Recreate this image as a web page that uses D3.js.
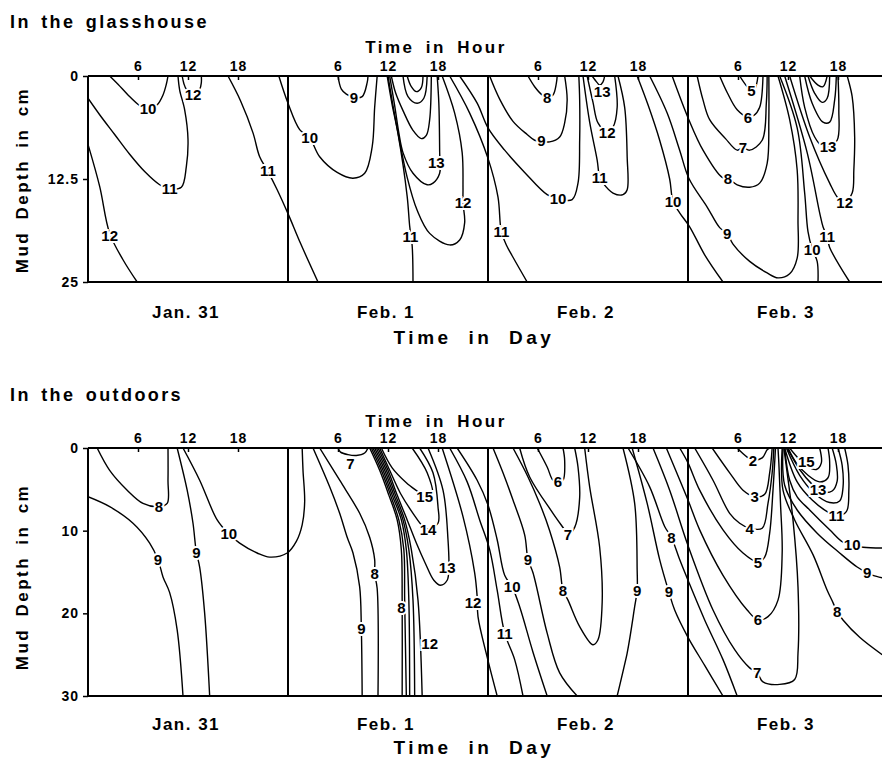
<!DOCTYPE html>
<meta charset="utf-8">
<title>Mud temperature isotherms</title>
<style>
body { margin: 0; background: #fff; }
svg { display: block; font-family: "Liberation Sans", Arial, sans-serif; font-weight: bold; }
.frame line { stroke: #000; stroke-width: 2; }
.iso { fill: none; stroke: #000; stroke-width: 1.4; }
.lab { font-size: 15px; fill: #000; stroke: #fff; stroke-width: 4px; paint-order: stroke; text-anchor: middle; dominant-baseline: central; }
.axis text { font-size: 14px; font-family: "Liberation Sans", Arial, sans-serif; font-weight: bold; letter-spacing: 1px; }
.axis line { stroke: #000; stroke-width: 1.5; }
.title { font-size: 18px; letter-spacing: 2.4px; word-spacing: 3px; }
.axtitle { font-size: 17px; letter-spacing: 2.5px; word-spacing: 4px; text-anchor: middle; }
.daytitle { font-size: 19px; letter-spacing: 3.5px; word-spacing: 8px; text-anchor: middle; }
.day { font-size: 17px; letter-spacing: 1.5px; text-anchor: middle; }
</style>
<body>
<script src="https://cdn.jsdelivr.net/npm/d3@7"></script>
<script>

var width = 882, height = 766;

var dayLabels = ["Jan. 31", "Feb. 1", "Feb. 2", "Feb. 3"];
var hourTicks = [6, 12, 18, 30, 36, 42, 54, 60, 66, 78, 84, 90];
var glassDepthTicks = [0, 12.5, 25];
var outDepthTicks = [0, 10, 20, 30];

// isotherms, points are [hour since Jan 31 0h, depth cm]
var gJan31 = [
  {t: 10, lab: [7.2, 4.0], p: [[2.6,0],[3.6,1.0],[4.8,2.3],[6.2,3.6],[7.2,4.1],[8.3,3.5],[9.0,2.3],[9.4,1.0],[9.6,0]]},
  {t: 12, lab: [12.6, 2.3], p: [[11.3,0],[11.5,0.9],[11.8,1.6],[12.6,2.2],[13.4,1.6],[13.6,0.8],[13.6,0]]},
  {t: 11, lab: [9.8, 13.7], p: [[0,2.7],[1.4,4.7],[3.2,7.1],[5.0,9.5],[6.8,11.6],[8.6,13.2],[9.8,13.7],[11.2,13.5],[11.8,11.0],[12.0,7.7],[11.6,4.1],[11.0,1.7],[10.8,0]]},
  {t: 12, lab: [2.6, 19.4], p: [[0,8.3],[1.4,13.4],[2.6,19.1],[4.2,22.3],[5.9,25]]},
  {t: 11, lab: [21.6, 11.5], p: [[16.8,0],[18.3,3],[19.8,6.9],[20.6,9.8],[21.6,11.6],[22.7,13.8],[24,16.7],[25.5,20.3],[27.6,25]]}
];
var gFeb1 = [
  {t: 10, lab: [26.6, 7.5], p: [[22.9,0],[24,3.3],[25.4,6.5],[26.6,7.5],[27.8,9.8],[29.9,11.7],[31.8,12.4],[33.2,11.8],[34.1,8.6],[34.4,3.8],[34.7,0]]},
  {t: 9, lab: [31.9, 2.6], p: [[30.0,0],[30.4,1.6],[31.0,2.2],[31.9,2.6],[32.9,2.5],[33.5,0.8],[33.6,0]]},
  {t: 11, lab: [38.7, 19.5], p: [[35.9,0],[36.5,3.5],[37.2,7.0],[38.3,14.6],[38.6,18.2],[38.9,20.6],[39.0,25]]},
  {t: 12, lab: [45.0, 15.4], p: [[36.0,0],[36.6,3.6],[37.2,6.9],[38.3,12.3],[39.5,16.3],[41.0,19.1],[43.4,20.5],[44.6,19.9],[45.2,17.8],[45.0,15.4],[45.0,13.5],[44.9,9.3],[44.0,4.5],[42.5,0]]},
  {t: 13, lab: [41.8, 10.5], p: [[36.2,0],[36.8,3.6],[37.3,6.9],[37.8,9.3],[39.0,11.8],[40.7,13.2],[41.4,13.0],[42.2,11.8],[42.2,9.3],[42.1,3.3],[41.9,0]]},
  {t: 14, lab: null, p: [[36.4,0],[36.9,2.0],[37.8,4.2],[39.0,6.6],[40.0,7.6],[40.6,7.2],[41.0,5.3],[41.2,0]]},
  {t: 15, lab: null, p: [[37.8,0],[38.4,2.5],[39.5,3.3],[40.3,2.7],[40.7,0]]},
  {t: 16, lab: null, p: [[38.3,0],[38.8,1.3],[39.4,1.9],[40.0,1.4],[40.2,0]]}
];
var gFeb2 = [
  {t: 11, lab: [49.6, 18.9], p: [[43.4,0],[45.8,4.5],[48.0,10.0],[49.2,14.7],[49.6,18.9],[50.2,20.5],[51.0,22.0],[52.7,25]]},
  {t: 10, lab: [56.4, 14.9], p: [[44.6,0],[46.7,3.3],[48.0,6.3],[50.0,9.0],[52.4,11.7],[55.1,14.4],[56.4,14.9],[58.1,15.0],[58.8,13.0],[59.0,7.8],[59.0,2.9],[58.9,0]]},
  {t: 9, lab: [54.4, 7.8], p: [[48.2,0],[49.4,2.8],[51.0,5.5],[52.7,7.1],[53.6,7.8],[54.4,7.9],[55.4,8.0],[56.6,7.4],[57.2,5.7],[57.5,2.9],[57.2,0]]},
  {t: 8, lab: [55.1, 2.6], p: [[52.8,0],[53.6,1.3],[54.5,2.3],[55.1,2.6],[55.8,2.3],[56.2,0.9],[56.3,0]]},
  {t: 11, lab: [61.4, 12.3], p: [[59.4,0],[60.2,5.6],[61.1,10.2],[61.4,12.3],[61.8,13.0],[63.0,14.2],[64.2,14.4],[64.7,13.8],[64.7,9.8],[64.4,3.8],[63.6,0]]},
  {t: 12, lab: [62.3, 6.8], p: [[59.9,0],[60.6,3.2],[61.2,5.7],[62.3,6.8],[63.0,6.2],[63.5,3.8],[63.2,0]]},
  {t: 13, lab: [61.7, 1.9], p: [[60.5,0],[61.1,0.8],[61.4,1.1],[61.8,0.7],[62.0,0]]},
  {t: 10, lab: [70.2, 15.2], p: [[65.9,0],[67.2,3.5],[68.6,7.8],[69.8,12.5],[70.2,15.2],[71.0,16.6],[72.2,18.3],[74.0,21.7],[76.2,25]]}
];
var gFeb3 = [
  {t: 9, lab: [76.7, 19.1], p: [[67.4,0],[69.5,4.5],[71.0,9.0],[72.1,12.4],[74.3,15.9],[75.8,18.4],[76.7,19.1],[77.4,20.4],[79.4,22.5],[81.5,23.9],[82.8,24.5],[84.2,24.0],[85.1,22.1],[85.2,17.5],[85.1,11.4],[84.2,5.3],[82.8,0]]},
  {t: 8, lab: [76.8, 12.4], p: [[70.1,0],[72.1,5.3],[73.8,9.0],[76.1,12.3],[76.8,12.4],[77.9,13.2],[79.4,13.5],[80.6,13.0],[81.5,10.6],[81.7,5.3],[81.7,0]]},
  {t: 7, lab: [78.6, 8.7], p: [[73.1,0],[73.8,2.9],[74.6,5.3],[76.5,7.6],[77.9,9.0],[78.6,8.7],[79.4,9.0],[80.9,7.8],[81.4,3.3],[81.5,0]]},
  {t: 6, lab: [79.2, 5.0], p: [[75.8,0],[76.7,2],[77.9,4.1],[79.2,5.0],[79.9,4.8],[80.6,3.8],[81.0,0]]},
  {t: 5, lab: [79.6, 1.7], p: [[78.2,0],[79.1,1.3],[79.6,1.7],[80.0,1.6],[80.4,0]]},
  {t: 10, lab: [86.9, 21.0], p: [[83.0,0],[85.1,6.3],[86.0,14.2],[86.4,18.9],[86.9,21.0],[87.5,22.5],[87.6,25]]},
  {t: 11, lab: [88.7, 19.5], p: [[83.6,0],[86.3,9.3],[87.8,16.6],[88.2,18.3],[88.7,19.5],[89.0,20.8],[91.4,25]]},
  {t: 12, lab: [90.8, 15.3], p: [[84.2,0],[86.6,7.4],[89.0,13.0],[90.0,14.8],[90.8,15.3],[91.7,14.2],[91.9,11.4],[92.0,7.4],[91.7,2.5],[91.1,0]]},
  {t: 13, lab: [88.8, 8.6], p: [[85.4,0],[86.0,3.8],[87.2,7.4],[88.2,8.6],[88.8,8.6],[89.9,7.8],[90.1,4.1],[90.0,0]]},
  {t: 14, lab: null, p: [[86.0,0],[86.9,3.3],[88.2,5.6],[89.0,5.6],[89.6,2.9],[89.8,0]]},
  {t: 15, lab: null, p: [[86.4,0],[87.2,2.1],[88.1,3.2],[88.7,2.7],[89.0,0]]},
  {t: 16, lab: null, p: [[86.6,0],[87.6,1.1],[88.2,1.3],[88.7,0]]}
];

var oJan31 = [
  {t: 8, lab: [8.5, 7.1], p: [[1.1,0],[2.6,2.7],[4.7,5.1],[6.6,6.7],[8.5,7.1],[9.5,6.7],[9.6,3.9],[9.6,0]]},
  {t: 9, lab: [8.4, 13.5], p: [[0,5.9],[2.6,7.1],[5.4,9.1],[7.4,11.5],[8.4,13.5],[9.0,15.6],[9.8,17.5],[10.7,22.0],[11.4,30]]},
  {t: 9, lab: [13.0, 12.6], p: [[10.7,0],[11.9,5.1],[12.6,9.1],[13.0,12.6],[13.4,14.4],[14.0,20.0],[14.6,30]]},
  {t: 10, lab: [16.9, 10.4], p: [[11.4,0],[13.4,3.9],[15.5,8.7],[16.9,10.4],[18.2,11.5],[20.3,12.7],[21.8,13.2],[23.9,12.7],[25.0,11.3],[25.7,9.3],[26.0,6.5],[25.8,2.7],[25.7,0]]}
];
var oFeb1 = [
  {t: 7, lab: [31.5, 1.9], p: [[30.0,0],[30.3,0.5],[31.2,0.8],[32.2,0.9],[33.2,0.6],[33.6,0]]},
  {t: 9, lab: [32.8, 21.8], p: [[27.0,0],[29.0,4.7],[30.2,7.9],[31.1,10.8],[31.8,12.7],[32.6,16.8],[32.8,21.8],[32.9,30]]},
  {t: 8, lab: [34.4, 15.2], p: [[27.8,0],[30.2,3.9],[32.6,7.9],[33.8,10.8],[34.4,13.5],[34.4,15.2],[34.7,17.0],[34.8,30]]},
  {t: 8, lab: [37.6, 19.3], p: [[33.8,0],[35.0,2.7],[36.1,5.7],[37.1,8.7],[37.6,12.3],[37.7,18.4],[37.7,30]]},
  {t: 9, lab: null, p: [[34.0,0],[35.2,2.7],[36.3,5.7],[37.3,8.7],[37.9,12.3],[38.0,18.4],[38.2,30]]},
  {t: 10, lab: null, p: [[34.2,0],[35.4,2.7],[36.5,5.7],[37.6,8.7],[38.2,12.3],[38.5,18.4],[38.6,30]]},
  {t: 11, lab: null, p: [[34.4,0],[35.6,2.7],[36.7,5.7],[37.8,8.7],[38.5,12.3],[39.0,18.4],[39.2,30]]},
  {t: 12, lab: [41.0, 23.7], p: [[34.6,0],[35.8,2.7],[36.9,5.7],[38.0,8.7],[38.8,12.3],[39.6,18.4],[40.1,30]]},
  {t: 13, lab: [43.1, 14.4], p: [[34.8,0],[36.0,2.7],[37.1,5.7],[38.3,8.7],[39.4,11.5],[40.5,14.0],[41.5,16.0],[42.3,16.6],[43.1,16.0],[43.3,14.4],[43.2,11.1],[42.6,5.1],[40.8,0]]},
  {t: 14, lab: [40.8, 9.8], p: [[35.0,0],[36.2,2.7],[37.5,5.5],[39.0,7.9],[40.2,9.5],[40.8,9.8],[42.0,9.1],[42.0,7.1],[41.4,3.0],[39.8,0]]},
  {t: 15, lab: [40.4, 5.9], p: [[35.2,0],[36.5,2.4],[38.2,4.2],[39.6,5.3],[40.4,5.9],[41.3,5.7],[40.7,3.0],[38.9,0]]},
  {t: 12, lab: [46.2, 18.7], p: [[42.5,0],[45.0,8.3],[46.4,15.1],[46.7,18.0],[46.8,20.4],[47.9,25.3],[49.1,30]]}
];
var oFeb2 = [
  {t: 11, lab: [50.0, 22.4], p: [[43.4,0],[45.5,4.1],[47.0,8.7],[48.2,12.3],[49.1,17.2],[50.0,22.4],[51.2,25.6],[52.2,30]]},
  {t: 10, lab: [50.9, 16.8], p: [[44.3,0],[46.7,3.9],[48.0,6.9],[49.1,11.1],[50.0,15.4],[50.9,16.8],[51.8,19.2],[53.4,24.7],[55.1,30]]},
  {t: 9, lab: [52.8, 13.5], p: [[48.6,0],[49.8,3.0],[51.0,6.3],[52.4,10.5],[52.8,13.5],[53.4,15.1],[55.1,22.4],[56.6,27.2],[58.7,30]]},
  {t: 8, lab: [57.0, 17.2], p: [[51.0,0],[52.8,3.5],[54.2,6.7],[55.4,10],[56.6,14.4],[57.0,17.2],[57.6,18.4],[59.0,21.6],[60.6,23.8],[61.2,23.2],[61.7,18.7],[61.4,12.0],[60.2,4.7],[59.6,0]]},
  {t: 7, lab: [57.6, 10.5], p: [[51.8,0],[53.0,3.5],[55.8,7.9],[57.2,9.9],[57.6,10.5],[58.4,9.6],[59.0,6.0],[58.8,2.3],[58.4,0]]},
  {t: 6, lab: [56.4, 4.1], p: [[53.9,0],[55.1,2.3],[55.8,3.9],[56.4,4.1],[57.0,3.9],[57.2,1.5],[57.0,0]]},
  {t: 9, lab: [65.9, 17.2], p: [[64.2,0],[65.6,6.7],[65.9,14.8],[65.9,17.2],[65.6,19.2],[64.7,24.8],[63.5,30]]},
  {t: 8, lab: [70.0, 10.8], p: [[64.8,0],[67.4,4.7],[69.2,9.5],[70.0,10.8],[71.0,13.5],[72.0,16.0],[74.0,20.8],[76.2,25.6],[77.9,30]]},
  {t: 9, lab: [69.7, 17.4], p: [[65.3,0],[67.1,6.7],[68.6,13.5],[69.7,17.4],[70.4,19.6],[72.0,22.9],[74.0,26.3],[76.2,30]]}
];
var oFeb3 = [
  {t: 7, lab: [80.3, 27.2], p: [[67.8,0],[69.8,5.1],[72.0,11.8],[75.0,19.6],[77.6,24.4],[79.4,26.6],[80.3,27.2],[81.0,28.3],[83.0,28.6],[84.8,28.0],[85.2,24.8],[85.2,16.8],[84.6,8.7],[83.9,3.0],[83.5,0]]},
  {t: 6, lab: [80.4, 20.8], p: [[69.4,0],[72.0,6.3],[73.4,9.9],[76.2,15.4],[79.1,19.6],[80.4,20.8],[81.6,20.4],[82.8,18.4],[83.3,12.7],[83.1,6.7],[82.9,1.8],[82.8,0]]},
  {t: 5, lab: [80.4, 13.8], p: [[71.0,0],[72.0,1.8],[73.4,5.1],[76.2,9.9],[78.6,12.7],[80.4,13.8],[81.2,13.2],[81.8,10.3],[82.2,5.1],[82.5,0]]},
  {t: 4, lab: [79.4, 9.7], p: [[72.8,0],[75.0,3.9],[77.0,7.9],[78.2,9.1],[79.4,9.7],[80.9,9.7],[81.6,6.7],[82.1,3.0],[82.3,0]]},
  {t: 3, lab: [80.0, 5.9], p: [[74.9,0],[77.0,3.0],[78.6,5.1],[80.0,5.9],[81.2,5.6],[81.8,3.0],[82.1,0]]},
  {t: 2, lab: [79.8, 1.5], p: [[77.9,0],[79.1,1.1],[79.8,1.45],[80.9,1.2],[81.5,0.2],[81.8,0]]},
  {t: 8, lab: [89.9, 19.8], p: [[83.3,0],[83.4,5.1],[84.8,8.7],[87.0,12.9],[88.7,17.2],[89.4,18.7],[89.9,19.8],[90.6,20.8],[92.6,22.9],[95.3,25.0]]},
  {t: 9, lab: [93.5, 15.1], p: [[83.4,0],[83.6,4.5],[85.1,7.5],[87.5,10.3],[90.2,12.7],[92.3,14.4],[93.5,15.1],[94.2,15.4],[95.3,15.7]]},
  {t: 10, lab: [91.7, 11.7], p: [[83.6,0],[84.2,3.9],[85.1,5.9],[86.6,7.5],[89.0,9.9],[90.6,11.4],[91.7,11.7],[93.0,12.0],[95.3,12.1]]},
  {t: 11, lab: [89.8, 8.2], p: [[83.6,0],[85.1,4.1],[86.9,6.3],[88.7,7.7],[89.8,8.2],[91.0,7.7],[91.3,5.1],[91.2,2.1],[90.8,0]]},
  {t: 12, lab: null, p: [[83.8,0],[85.4,3.3],[87.2,5.5],[89.0,6.6],[90.2,6.4],[90.6,4.8],[90.5,2.1],[90.0,0]]},
  {t: 13, lab: [87.6, 5.0], p: [[83.9,0],[85.4,2.6],[86.9,4.4],[88.1,5.3],[89.3,5.2],[89.9,4.0],[89.8,2.0],[89.3,0]]},
  {t: 14, lab: null, p: [[84.0,0],[85.0,1.8],[86.4,3.3],[87.8,4.1],[88.8,3.6],[89.0,1.7],[88.8,0]]},
  {t: 15, lab: [86.2, 1.6], p: [[84.2,0],[85.2,1.2],[86.4,2.3],[87.4,2.6],[88.0,1.8],[87.8,0]]}
];

var svg = d3.select("body").append("svg")
    .attr("width", width)
    .attr("height", height);

var x = d3.scaleLinear().domain([0, 96]).range([88, 888]);

var panels = [
  {name: "In the glasshouse", y: d3.scaleLinear().domain([0, 25]).range([76, 282]),
   ticks: glassDepthTicks, lines: [].concat(gJan31, gFeb1, gFeb2, gFeb3),
   titleY: 28, hourY: 53, dayY: 318, dayTitleY: 344, depthMid: 180},
  {name: "In the outdoors", y: d3.scaleLinear().domain([0, 30]).range([448, 696]),
   ticks: outDepthTicks, lines: [].concat(oJan31, oFeb1, oFeb2, oFeb3),
   titleY: 401, hourY: 427, dayY: 730, dayTitleY: 754, depthMid: 577}
];

panels.forEach(function(pn, i) {
  var y = pn.y;
  var g = svg.append("g");

  g.append("clipPath").attr("id", "clip" + i)
    .append("rect")
      .attr("x", x(0)).attr("y", y.range()[0])
      .attr("width", width - x(0)).attr("height", y.range()[1] - y.range()[0]);

  var line = d3.line()
      .x(function(d) { return x(d[0]); })
      .y(function(d) { return y(d[1]); })
      .curve(d3.curveCatmullRom.alpha(0.5));

  var iso = g.append("g").attr("clip-path", "url(#clip" + i + ")");

  iso.selectAll("path")
      .data(pn.lines)
    .enter().append("path")
      .attr("class", "iso")
      .attr("d", function(d) { return line(d.p); });

  iso.selectAll("text")
      .data(pn.lines.filter(function(d) { return d.lab; }))
    .enter().append("text")
      .attr("class", "lab")
      .attr("x", function(d) { return x(d.lab[0]); })
      .attr("y", function(d) { return y(d.lab[1]); })
      .text(function(d) { return d.t; });

  // frame: top and bottom edges plus day dividers
  var frame = g.append("g").attr("class", "frame");
  frame.append("line")
      .attr("x1", x(0)).attr("x2", width)
      .attr("y1", y(0)).attr("y2", y(0));
  frame.append("line")
      .attr("x1", x(0)).attr("x2", width)
      .attr("y1", y.range()[1]).attr("y2", y.range()[1]);
  frame.selectAll(".div")
      .data([0, 24, 48, 72])
    .enter().append("line")
      .attr("x1", function(d) { return x(d); }).attr("x2", function(d) { return x(d); })
      .attr("y1", y(0)).attr("y2", y.range()[1]);

  var top = g.append("g")
      .attr("class", "axis")
      .attr("transform", "translate(0," + y(0) + ")")
      .call(d3.axisTop(x).tickValues(hourTicks).tickSize(-4).tickPadding(5)
        .tickFormat(function(h) { return h % 24; }));
  top.select(".domain").remove();

  var left = g.append("g")
      .attr("class", "axis")
      .attr("transform", "translate(" + x(0) + ",0)")
      .call(d3.axisLeft(y).tickValues(pn.ticks).tickSize(5).tickPadding(4)
        .tickFormat(function(d) { return d; }));
  left.select(".domain").remove();

  g.append("text").attr("class", "title")
      .attr("x", 10).attr("y", pn.titleY)
      .text(pn.name);

  g.append("text").attr("class", "axtitle")
      .attr("x", 436).attr("y", pn.hourY)
      .text("Time in Hour");

  g.selectAll(".day")
      .data(dayLabels)
    .enter().append("text")
      .attr("class", "day")
      .attr("x", function(d, k) { return x(24 * k + 12) - 2; })
      .attr("y", pn.dayY)
      .text(function(d) { return d; });

  g.append("text").attr("class", "daytitle")
      .attr("x", 474).attr("y", pn.dayTitleY)
      .text("Time in Day");

  g.append("text").attr("class", "axtitle")
      .attr("transform", "translate(28," + pn.depthMid + ") rotate(-90)")
      .text("Mud Depth in cm");
});

</script>
</body>
